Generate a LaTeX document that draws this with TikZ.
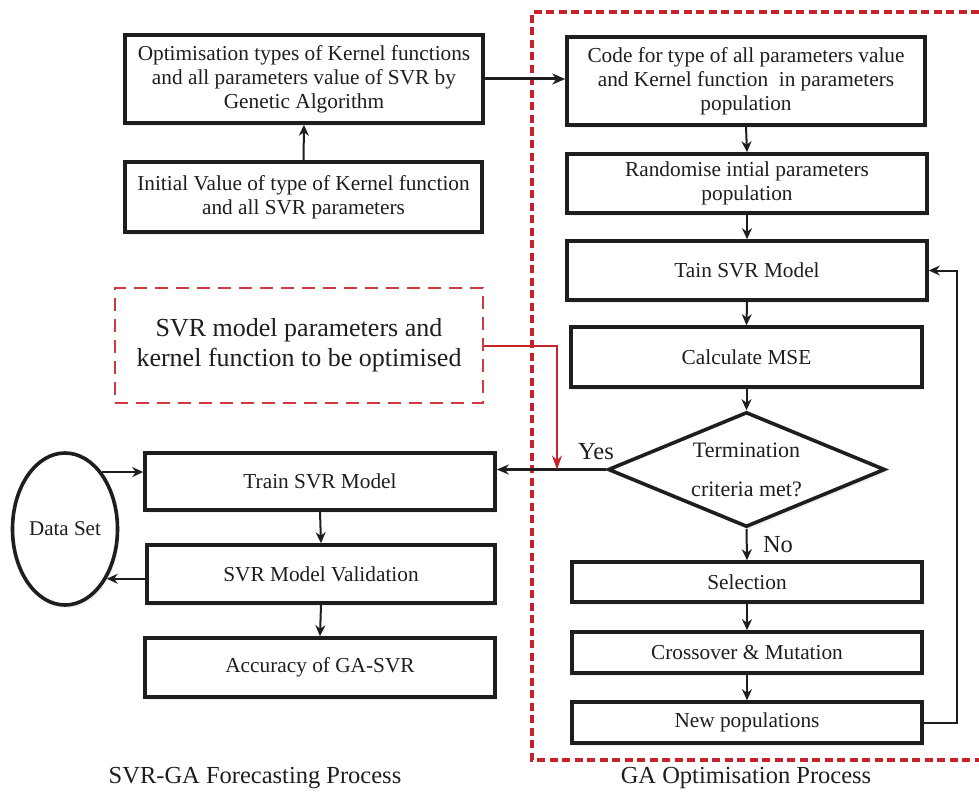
\documentclass[tikz,border=0pt]{standalone}
\usepackage{fontspec}
\setmainfont{Liberation Serif}
\usetikzlibrary{arrows.meta,shapes.geometric,shadows}
\definecolor{ink}{HTML}{1E1E1E}
\definecolor{redd}{HTML}{C8232B}
\definecolor{redl}{HTML}{D0393F}
\begin{document}
\begin{tikzpicture}[x=1pt,y=-1pt,
  box/.style={draw=ink, line width=3.6pt, fill=white, align=center, inner sep=2pt,
    font=\fontsize{21.3}{24}\selectfont, text=ink,
    drop shadow={shadow xshift=2pt, shadow yshift=-3pt, opacity=0.12, fill=gray}},
  arr/.style={draw=ink, line width=2pt, -{Stealth[length=11pt,width=10pt]}},
  thickarr/.style={draw=ink, line width=3pt, -{Stealth[length=13pt,width=11pt]}},
  redarr/.style={draw=redd, line width=2pt, -{Stealth[length=14pt,width=10pt]}},
  lbl/.style={text=ink, inner sep=0pt}
]
\useasboundingbox (0,0) rectangle (979,797);
\fill[white] (0,0) rectangle (979,797);

% outer GA region
\draw[redd, line width=4pt, dash pattern=on 8pt off 4.5pt] (979,12) -- (532,12) -- (532,760) -- (979,760);

% left column top
\node[box, minimum width=358, minimum height=88] (opt) at (304,79) {Optimisation types of Kernel functions\\and all parameters value of SVR by\\Genetic Algorithm};
\node[box, minimum width=357, minimum height=70] (init) at (303.5,197) {Initial Value of type of Kernel function\\and all SVR parameters};

% red dashed box
\node[draw=redl, line width=1.5pt, dash pattern=on 13pt off 8pt, minimum width=368, minimum height=115,
  align=center, text=ink, font=\fontsize{26}{30}\selectfont] (redbox) at (299,345.5)
  {SVR model parameters and\\kernel function to be optimised};

% right column
\node[box, minimum width=358, minimum height=88] (code) at (746,81) {Code for type of all parameters value\\and Kernel function\ \ in parameters\\population};
\node[box, minimum width=360, minimum height=59] (rand) at (747,183.5) {Randomise intial parameters\\population};
\node[box, minimum width=360, minimum height=59] (tain) at (747,270.5) {Tain SVR Model};
\node[box, minimum width=351, minimum height=60] (mse) at (746.5,357) {Calculate MSE};
\node[draw=ink, line width=3.6pt, fill=white, diamond, minimum width=277, minimum height=115, inner sep=0pt,
  drop shadow={shadow xshift=2pt, shadow yshift=-3pt, opacity=0.12, fill=gray},
  label={[align=center, text=ink, inner sep=0pt, font=\fontsize{22}{39}\selectfont]center:Termination\\criteria met?}] (dia) at (746.5,469.5) {};
\node[box, minimum width=350, minimum height=40] (sel) at (747,582) {Selection};
\node[box, minimum width=350, minimum height=41] (cross) at (747,652.5) {Crossover \& Mutation};
\node[box, minimum width=350, minimum height=41] (newp) at (747,722.5) {New populations};

% left column bottom
\node[box, minimum width=350, minimum height=57] (train) at (320,481.5) {Train SVR Model};
\node[box, minimum width=348, minimum height=58] (valid) at (321,574) {SVR Model Validation};
\node[box, minimum width=350, minimum height=59] (acc) at (320,667.5) {Accuracy of GA-SVR};
\node[draw=ink, line width=3.6pt, fill=white, ellipse, minimum width=105, minimum height=152, inner sep=0pt,
  text=ink, font=\fontsize{21}{24}\selectfont,
  drop shadow={shadow xshift=2pt, shadow yshift=-3pt, opacity=0.12, fill=gray}] (data) at (65,529) {Data Set};

% connectors
\draw[arr] (init.north) -- (opt.south);
\draw[thickarr] (opt.east) -- (opt.east -| code.west);
\draw[arr] (code.south) -- (rand.north);
\draw[arr] (rand.south) -- (tain.north);
\draw[arr] (tain.south) -- (mse.north);
\draw[arr] (mse.south) -- (dia.north);
\draw[arr] (dia.south) -- (sel.north);
\draw[arr] (sel.south) -- (cross.north);
\draw[arr] (cross.south) -- (newp.north);
\draw[arr] (newp.east) -- ++(33,0) |- (tain.east);
\draw[line width=3pt, draw=ink, -{Stealth[length=12pt,width=10pt]}] (dia.west) -- (dia.west -| train.east);
\draw[arr] (train.south) -- (valid.north);
\draw[arr] (valid.south) -- (acc.north);
\draw[arr] (data.57) -- (data.57 -| train.west);
\draw[arr] (data.-50 -| valid.west) -- (data.-50);

\coordinate (rturn) at (557,345.5);
\draw[redarr] (redbox.east) -- (rturn) -- (rturn |- dia.west);

% labels
\node[lbl, font=\fontsize{24.5}{28}\selectfont] (yes) at (596,452) {Yes};
\node[lbl, font=\fontsize{24.5}{28}\selectfont] (no) at (778,545) {No};
\node[lbl, font=\fontsize{24.5}{28}\selectfont] (capl) at (255,778) {SVR-GA Forecasting Process};
\node[lbl, font=\fontsize{24.5}{28}\selectfont] (capr) at (746,778) {GA Optimisation Process};
\end{tikzpicture}
\end{document}
